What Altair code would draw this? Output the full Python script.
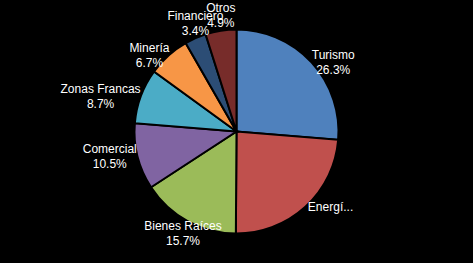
import altair as alt
import pandas as pd

categories = ["Turismo", "Energía", "Bienes Raíces", "Comercial", "Zonas Francas", "Minería", "Financiero", "Otros"]
values = [26.3, 23.8, 15.7, 10.5, 8.7, 6.7, 3.4, 4.9]
shown_names = ["Turismo", "Energí...", "Bienes Raíces", "Comercial", "Zonas Francas", "Minería", "Financiero", "Otros"]
shown_pcts = ["26.3%", "", "15.7%", "10.5%", "8.7%", "6.7%", "3.4%", "4.9%"]
colors = ["#4F81BD", "#C0504D", "#9BBB59", "#8064A2", "#4BACC6", "#F79646", "#2C4D75", "#772C2A"]

R = 102

df = pd.DataFrame({
    "i": list(range(len(categories))),
    "cat": categories,
    "value": values,
    "nm": shown_names,
    "pct": shown_pcts,
})
df["label"] = [n + ("\n" + p if p else "") for n, p in zip(shown_names, shown_pcts)]
df["lines"] = [2 if p else 1 for p in shown_pcts]

arcs = alt.Chart(df).mark_arc(outerRadius=R, stroke="black", strokeWidth=2).encode(
    theta=alt.Theta("value:Q", stack=True),
    order=alt.Order("i:Q"),
    color=alt.Color("cat:N", scale=alt.Scale(domain=categories, range=colors), legend=None),
)

# "best fit"-style label placement: box set just outside the edge at the slice's mid angle
texts = alt.Chart(df).transform_joinaggregate(
    total="sum(value)"
).transform_window(
    cum="sum(value)", sort=[alt.SortField("i")], frame=[None, 0]
).transform_calculate(
    a="(datum.cum - datum.value/2) / datum.total * 2 * PI",
    hw="3.1 * max(length(datum.nm), length(datum.pct))",
    hh="7.5 * datum.lines",
).transform_calculate(
    s="sin(datum.a)", c="cos(datum.a)",
).transform_calculate(
    X=f"{R} * datum.s + (datum.s < 0 ? -1 : 1) * datum.hw * clamp((abs(datum.s) - 0.45) / 0.25, 0, 1)",
    Y=f"-{R} * datum.c - (datum.c < 0 ? -1 : 1) * datum.hh * clamp((abs(datum.c) - 0.75) / 0.15, 0, 1) - 7.5 * (datum.lines - 1)",
).transform_calculate(
    th="atan2(datum.X, -datum.Y)",
    rr="sqrt(datum.X * datum.X + datum.Y * datum.Y)",
).mark_text(
    font="Liberation Sans", fontSize=12, color="white", lineBreak="\n", lineHeight=15,
    align="center", baseline="middle",
).encode(
    text="label:N",
    theta=alt.Theta("th:Q", scale=None),
    radius=alt.Radius("rr:Q", scale=None),
)

chart = alt.layer(arcs, texts).resolve_scale(theta="independent").properties(
    width=473, height=263, background="black", padding=0,
    autosize=alt.AutoSizeParams(type="none"),
).configure_view(stroke=None)

chart.save("out.html", embed_options={"renderer": "svg", "actions": False})
